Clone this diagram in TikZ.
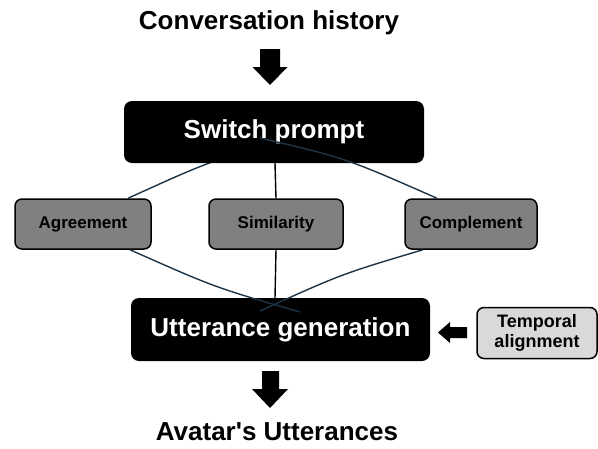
\documentclass[tikz,border=0pt]{standalone}
\usepackage{fontspec}
\setmainfont{Liberation Sans}[Ligatures=TeXOff]
\definecolor{linknavy}{RGB}{28,52,72}
\definecolor{boxgrey}{RGB}{128,128,128}
\definecolor{paleGrey}{RGB}{217,217,217}

\begin{document}
\begin{tikzpicture}[x=1pt,y=-1pt,
    bigblock/.style={fill=black,rounded corners=8pt,text=white,
      font=\fontsize{26}{30}\selectfont\bfseries,inner sep=0pt},
    strategy/.style={draw=black,line width=1.5pt,fill=boxgrey,rounded corners=7pt,
      font=\fontsize{17}{20}\selectfont\bfseries,inner sep=0pt,
      minimum height=50pt},
    label/.style={font=\fontsize{26}{30}\selectfont\bfseries,inner sep=0pt},
    link/.style={linknavy,line width=1.4pt}]
  \useasboundingbox (0,0) rectangle (598,448);
  % top and bottom labels
  \node[label] (hist) at (269,23) {Conversation history};
  \node[label] (utt) at (277,432) {Avatar's Utterances};
  % end points of the links inside the black boxes
  \coordinate (spL) at (290,138);
  \coordinate (spR) at (260,138);
  \coordinate (ugL) at (300,312);
  \coordinate (ugR) at (260,311);
  % strategy boxes
  \node[strategy,minimum width=136pt] (agr) at (83,224) {Agreement};
  \node[strategy,minimum width=134pt] (sim) at (276,224) {Similarity};
  \node[strategy,minimum width=132pt] (comp) at (471,224) {Complement};
  % links behind the boxes
  \draw[link] ([xshift=45pt]agr.north) .. controls (209,161.5) .. (spL);
  \draw[black,line width=1.4pt] (275,163) -- (sim.north);
  \draw[black,line width=1.4pt] (sim.south) -- (275,298);
  \node[bigblock,minimum width=300pt,minimum height=62pt] (sp) at (274,132) {Switch prompt};
  \node[bigblock,minimum width=299pt,minimum height=63pt] (ug) at (280.5,329.5) {Utterance generation};
  \node[draw=black,line width=1.5pt,fill=paleGrey,rounded corners=7pt,
    minimum width=120pt,minimum height=51pt,inner sep=0pt,align=center,
    font=\fontsize{18}{20}\selectfont\bfseries] (tmp) at (537,333) {Temporal\\alignment};
  % links drawn over the boxes
  \draw[link] ([xshift=-34pt]comp.north) .. controls (345.5,158) .. (spR);
  \draw[link] ([xshift=-47pt]agr.south) ++(94pt,0) .. controls (215,287.5) .. (ugL);
  \draw[link] ([xshift=-48pt]comp.south) .. controls (341.5,274) .. (ugR);
  % block arrows
  \fill (260,49) -- (280,49) -- (280,67) -- (287.5,67) -- (270,85)
    -- (252.5,67) -- (260,67) -- cycle;
  \fill (262,371) -- (279,371) -- (279,389) -- (288,389) -- (270,408)
    -- (252,389) -- (262,389) -- cycle;
  \fill (467,327) -- (467,338) -- (450,338) -- (450,343) -- (438,332.5)
    -- (450,322) -- (450,327) -- cycle;
\end{tikzpicture}
\end{document}
